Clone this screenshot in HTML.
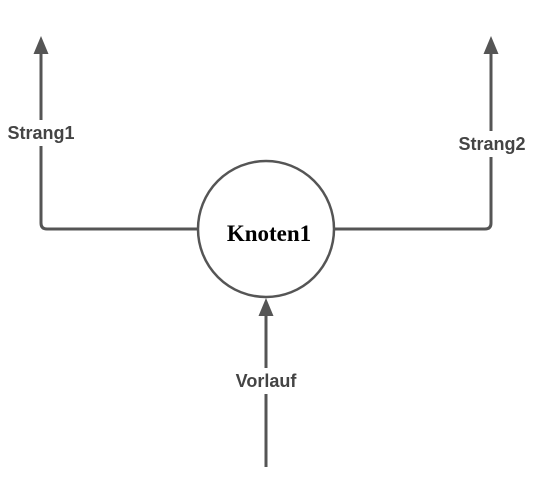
<!DOCTYPE html>
<html><head><meta charset="utf-8"><style>
html,body{margin:0;padding:0;background:#fff;width:550px;height:480px;overflow:hidden}
</style></head><body>
<svg width="550" height="480" xmlns="http://www.w3.org/2000/svg">
<g stroke="#555" stroke-width="3" fill="none">
<path d="M41 52 V223 Q41 229 47 229 H198"/>
<path d="M334 229 H485 Q491 229 491 223 V52"/>
<line x1="266" y1="467" x2="266" y2="314"/>
<circle cx="266" cy="229" r="68" stroke-width="2.5"/>
</g>
<g fill="#555">
<polygon points="41,36 33.5,54 48.5,54"/>
<polygon points="491,36 483.5,54 498.5,54"/>
<polygon points="266,298 258.5,316 273.5,316"/>
</g>
<g font-family="Liberation Sans, sans-serif" font-weight="bold" font-size="18" fill="#444" text-anchor="middle">
<rect x="0" y="120" width="84" height="26" fill="#fff"/>
<text x="41" y="139">Strang1</text>
<rect x="450" y="131" width="84" height="26" fill="#fff"/>
<text x="492" y="150">Strang2</text>
<rect x="224" y="368" width="84" height="26" fill="#fff"/>
<text x="266" y="387">Vorlauf</text>
</g>
<text x="269" y="241" font-family="Liberation Serif, serif" font-weight="bold" font-size="23" fill="#000" text-anchor="middle">Knoten1</text>
</svg>
</body></html>
